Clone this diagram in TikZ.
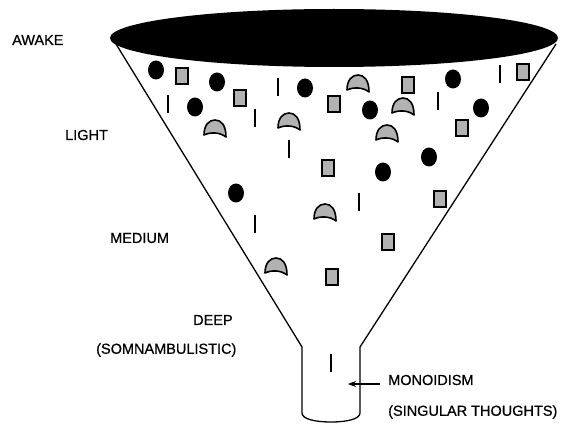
\documentclass[tikz,border=0pt]{standalone}
\usepackage{fontspec}
\setmainfont{Liberation Sans}
\newfontfamily\stagefont[FakeBold=0.6]{Liberation Sans}
\usetikzlibrary{arrows.meta}

\begin{document}
\begin{tikzpicture}[
  x=1pt, y=-1pt,
  font=\stagefont\fontsize{14.5}{17}\selectfont,
  stage/.style={anchor=west, inner sep=0pt},
  wall/.style={line width=1.3pt, line join=round},
  blob/.style={fill=black},
  chip/.style={draw, line width=1.6pt, fill=black!30},
  dome/.style={draw, line width=1.6pt, fill=black!30, line join=round},
  stick/.style={line width=2.8pt},
  arrow/.style={-{Stealth[length=8pt,width=6pt]}, line width=1.2pt}
]
\useasboundingbox (0,0) rectangle (568,425);

% funnel
\fill (334,38) ellipse [x radius=224, y radius=29];
\draw[wall] (116,44) -- (302,347) -- (302,413)
  .. controls (302,419) and (315,422) .. (331,422)
  .. controls (347,422) and (360,419) .. (360,413)
  -- (360,347) -- (556,44);

% thoughts
\foreach \x/\y in {156/70, 217/82, 195/107, 305/88, 370/110, 453/79, 481/108, 236/193, 383/172, 429/157}
  \fill[blob] (\x,\y) ellipse [x radius=8, y radius=9.5];
\foreach \x/\y in {182/76, 240/98, 334/104, 408/85, 523/72, 462/128, 328/168, 440/199, 388/242, 332/277}
  \draw[chip] (\x-6,\y-8) rectangle (\x+6,\y+8);
\foreach \x/\y in {215/130, 289/123, 358/85, 403/108, 387/135, 325/214, 276/268}
  \draw[dome, shift={(\x,\y)}] (-11,5) .. controls (-11,-5) and (-6,-10) .. (0,-10)
    .. controls (6,-10) and (11,-5) .. (11,7) .. controls (5,2) and (-5,2) .. cycle;
\foreach \x/\y in {168/104, 255/118, 278/87, 500/74, 438/101, 289/149, 359/202, 255/224, 331/363}
  \draw[stick] (\x,\y-9) -- (\x,\y+9);

% levels
\node[stage] (awake) at (12,40) {AWAKE};
\node[stage] (light) at (65,135) {LIGHT};
\node[stage] (medium) at (110,238) {MEDIUM};
\node[stage] (deep) at (193,320) {DEEP};
\node[stage] (somn) at (96,350) {(SOMNAMBULISTIC)};
\node[stage] (mono) at (388,380) {MONOIDISM};
\node[stage] (singular) at (388,412) {(SINGULAR THOUGHTS)};

\coordinate (tail) at (380,384);
\coordinate (tip) at (348,384);
\draw[arrow] (tail) -- (tip);
\end{tikzpicture}
\end{document}
